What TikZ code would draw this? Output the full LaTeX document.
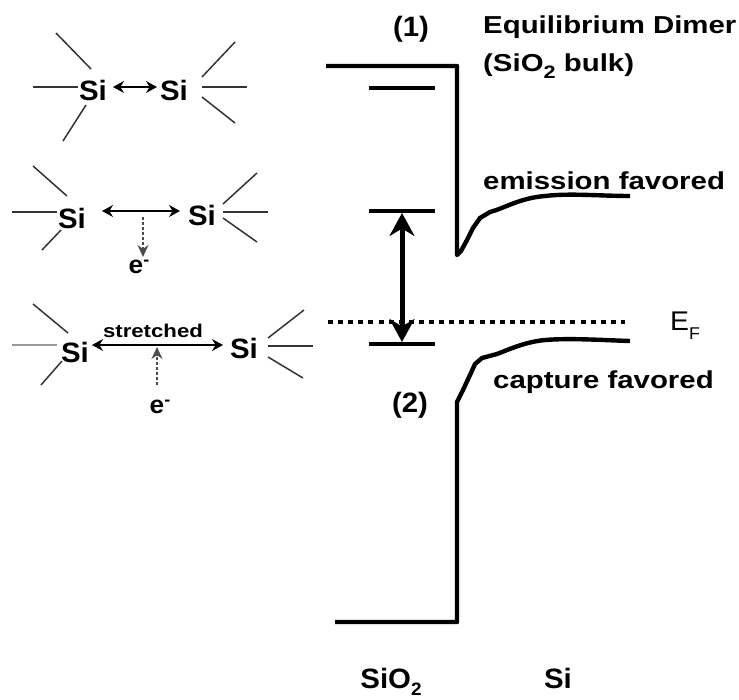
\documentclass[tikz,border=0pt]{standalone}
\usepackage{fontspec}
\setmainfont[FakeStretch=1.2]{Liberation Sans}
\newfontfamily\tallfont[FakeStretch=1.05]{Liberation Sans}
\usetikzlibrary{arrows.meta, positioning}
\newcommand{\lowidx}[2][-7pt]{\raisebox{#1}{\fontsize{18}{18}\selectfont #2}}
\newcommand{\highidx}[1]{\raisebox{8pt}{\fontsize{17}{17}\selectfont #1}}
\begin{document}
\begin{tikzpicture}[x=1pt, y=-1pt, >=Stealth,
      atm/.style={font=\tallfont\fontsize{28}{30}\selectfont\bfseries, inner sep=0pt},
      lbl/.style={font=\fontsize{24.5}{38}\selectfont\bfseries, inner sep=0pt, align=left},
      bnd/.style={line width=1.5pt, black!80},
      arr/.style={<->, line width=1.5pt, >={Stealth[length=11pt, width=12pt]}},
      eln/.style={->, densely dashed, line width=1.1pt, black!70, >={Stealth[length=12pt, width=11pt]}},
      lev/.style={line width=4.2pt},
      edge/.style={line width=4.4pt, line join=round}]

    \useasboundingbox (0,0) rectangle (739,699);

    % ---- Si atoms ----
    \node[atm] (aL) at (93,90)   {Si};
    \node[atm] (aR) at (174,90)  {Si};
    \node[atm] (bL) at (72,218)  {Si};
    \node[atm] (bR) at (202,215) {Si};
    \node[atm] (cL) at (75,352)  {Si};
    \node[atm] (cR) at (244,348) {Si};

    % ---- Bonds, top dimer ----
    \draw[bnd] ([shift={(-2,-21)}]aL.center) -- ++(-35,-36);
    \draw[line width=2.2pt, black!80] ([shift={(-15,-3)}]aL.center) -- ++(-45,0);
    \draw[bnd] ([shift={(-7,15)}]aL.center) -- ++(-23,36);
    \draw[bnd] ([shift={(28,-13)}]aR.center) -- ++(33,-35);
    \draw[line width=2.2pt, black!80] ([shift={(28,-3)}]aR.center) -- ++(45,0);
    \draw[bnd] ([shift={(28,7)}]aR.center) -- ++(33,26);
    \draw[arr] ([shift={(20,-3)}]aL.center) -- ([shift={(-17,-3)}]aR.center);

    % ---- Bonds, middle dimer ----
    \draw[bnd] ([shift={(-5,-22)}]bL.center) -- ++(-34,-30);
    \draw[bnd] ([shift={(-15,-6)}]bL.center) -- ++(-45,0);
    \draw[bnd] ([shift={(-11,12)}]bL.center) -- ++(-19,20);
    \draw[bnd] ([shift={(21,-11)}]bR.center) -- ++(34,-31);
    \draw[bnd] ([shift={(21,-3)}]bR.center) -- ++(45,0);
    \draw[bnd] ([shift={(21,3)}]bR.center) -- ++(34,24);
    \draw[arr] ([shift={(30,-7)}]bL.center) -- ([shift={(-22,-4)}]bR.center);

    \node[atm, font=\tallfont\fontsize{25}{27}\selectfont\bfseries] (eb) at (139,267) {e\highidx{-}};
    \coordinate (eb0) at (143,217);
    \draw[eln] (eb0) -- (143,257);

    % ---- Bonds, lower dimer ----
    \draw[bnd] ([shift={(-7,-19)}]cL.center) -- ++(-35,-29);
    \draw[line width=1.8pt, black!40] ([shift={(-18,-7)}]cL.center) -- ++(-45,0);
    \draw[bnd] ([shift={(-13,9)}]cL.center) -- ++(-21,24);
    \draw[bnd] ([shift={(24,-10)}]cR.center) -- ++(36,-28);
    \draw[bnd] ([shift={(24,-2)}]cR.center) -- ++(45,0);
    \draw[bnd] ([shift={(24,9)}]cR.center) -- ++(35,21);
    \draw[arr] ([shift={(17,-7)}]cL.center) -- ([shift={(-21,-3)}]cR.center);

    \node[lbl, font=\fontsize{18.5}{20}\selectfont\bfseries] (strch) at (153,331) {stretched};
    \node[atm, font=\tallfont\fontsize{25}{27}\selectfont\bfseries] (ec) at (160,407) {e\highidx{-}};
    \coordinate (ec0) at (157,385);
    \draw[eln] (ec0) -- (157,347);

    % ---- Energy levels ----
    \coordinate (lvA0) at (369,88);  \coordinate (lvA1) at (435,88);
    \coordinate (lvB0) at (369,211); \coordinate (lvB1) at (435,211);
    \coordinate (lvC0) at (369,344); \coordinate (lvC1) at (435,344);
    \draw[lev] (lvA0) -- (lvA1);
    \draw[lev] (lvB0) -- (lvB1);
    \draw[lev] (lvC0) -- (lvC1);

    \coordinate (gapT) at (402,213);
    \coordinate (gapB) at (402,342);
    \draw[<->, line width=5pt, >={Stealth[length=23pt, width=25pt]}] (gapT) -- (gapB);

    % Fermi level
    \coordinate (ef0) at (328,322);
    \coordinate (ef1) at (625,322);
    \draw[line width=4.5pt, dash pattern=on 5pt off 5.1pt] (ef0) -- (ef1);

    % ---- Band edges ----
    \draw[edge] (326,66) -- (457,66) -- (457,255)
       -- (461,251) -- (467,240) -- (473,228) -- (480,218) -- (490,212)
       .. controls (505,208) and (520,198) .. (545,196)
       .. controls (570,193) and (600,196) .. (630,196);
    \draw[edge] (335,622) -- (457,622) -- (457,402)
       -- (463,390) -- (470,375) -- (475,364) -- (482,358) -- (497,354)
       .. controls (510,349) and (525,342) .. (545,340)
       .. controls (570,338) and (600,340) .. (630,341);

    % ---- Labels ----
    \node[atm] (n1) at (411,29) {(1)};
    \node[atm] (n2) at (410,405) {(2)};
    \node[lbl, anchor=west] (eqd) at (483,47) {Equilibrium Dimer\\(SiO\lowidx{2} bulk)};
    \node[lbl, anchor=west] (emi) at (483,181) {emission favored};
    \node[lbl, anchor=west] (cap) at (493,382) {capture favored};
    \node[lbl, anchor=west, font=\tallfont\fontsize{27}{29}\selectfont] (ef) at (670,326) {E\lowidx[-9pt]{\fontsize{17}{17}\selectfont F}};
    \node[atm] (sio) at (391,682) {SiO\lowidx{2}};
    \node[atm] (si) at (558,678) {Si};
\end{tikzpicture}
\end{document}
